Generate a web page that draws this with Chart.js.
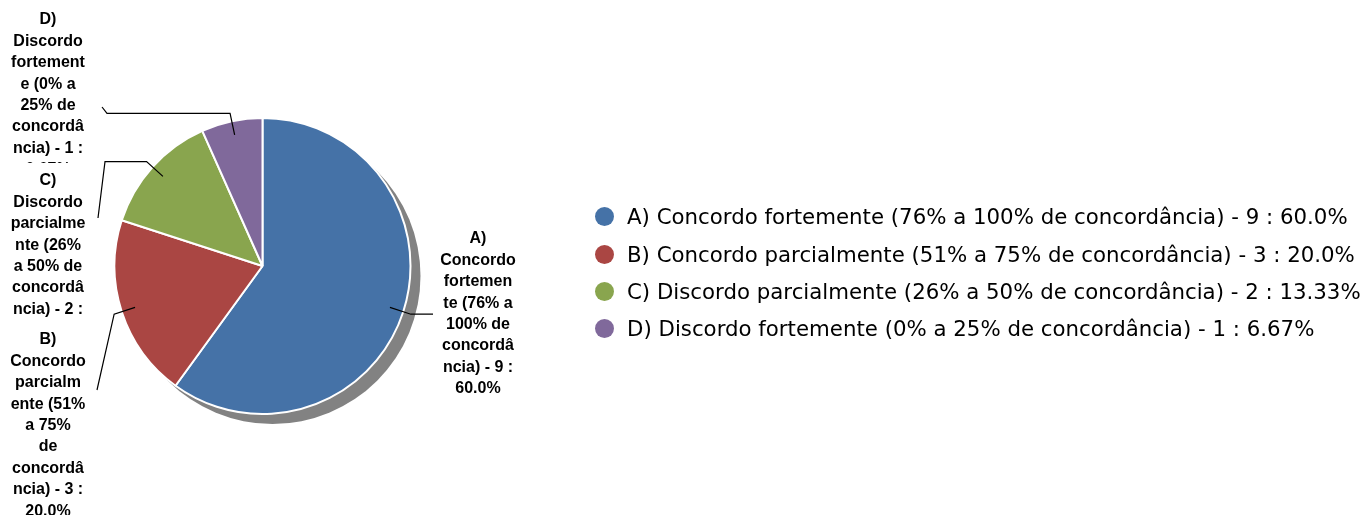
<!DOCTYPE html>
<html>
<head>
<meta charset="utf-8">
<script src="https://cdn.jsdelivr.net/npm/chart.js@4.4.1/dist/chart.umd.min.js"></script>
<style>
  html, body { margin: 0; padding: 0; background: #fff; }
  #wrap { position: relative; width: 1367px; height: 515px; }
  #pie { position: absolute; left: 0; top: 0; }
  #legend { position: absolute; left: 595px; top: 198px; font-family: "DejaVu Sans", sans-serif; font-size: 21.3px; color: #000; }
  .row { height: 37.4px; display: flex; align-items: center; white-space: nowrap; }
  .dot { width: 19px; height: 19px; border-radius: 50%; margin-right: 13px; flex: none; }
</style>
</head>
<body>
<div id="wrap">
  <canvas id="pie" width="1367" height="515"></canvas>
  <div id="legend"></div>
</div>
<script>
// ===========================
// DATA
// ===========================

const categories = [
  "A) Concordo fortemente (76% a 100% de concordância)",
  "B) Concordo parcialmente (51% a 75% de concordância)",
  "C) Discordo parcialmente (26% a 50% de concordância)",
  "D) Discordo fortemente (0% a 25% de concordância)",
];
const counts = [9, 3, 2, 1];
const percents = ["60.0", "20.0", "13.33", "6.67"];
const colors = ["#4572A7", "#AA4643", "#89A54E", "#80699B"];

// data labels, wrapped the way the original wraps them
const labelLines = [
  ["A)", "Concordo", "fortemen", "te (76% a", "100% de", "concordâ", "ncia) - 9 :", "60.0%"],
  ["B)", "Concordo", "parcialm", "ente (51%", "a 75%", "de", "concordâ", "ncia) - 3 :", "20.0%"],
  ["C)", "Discordo", "parcialme", "nte (26%", "a 50% de", "concordâ", "ncia) - 2 :", "13.33%"],
  ["D)", "Discordo", "fortement", "e (0% a", "25% de", "concordâ", "ncia) - 1 :", "6.67%"],
];

// ===========================
// LABEL LAYOUT
// ===========================

const LINE_H = 21.4;
const labelLayout = [
  { x: 478, y: 239, path: (e) => [[433, e.y]] },
  { x: 48, y: 340, path: (e) => [[97, 390]] },
  { x: 48, y: 181, path: (e) => [[105, e.y], [98, 218]] },
  { x: 48, y: 20, path: (e) => [[107, e.y], [102, 107]] },
];

// ===========================
// LEGEND
// ===========================

document.getElementById("legend").innerHTML = categories
  .map(
    (c, i) => `
    <div class="row"><span class="dot" style="background:${colors[i]}"></span>${c} - ${counts[i]} : ${percents[i]}%</div>`
  )
  .join("");

// ===========================
// PLUGINS
// ===========================

const shadowPlugin = {
  id: "shadow",
  beforeDatasetsDraw(chart) {
    const arc = chart.getDatasetMeta(0).data[0];
    const { x, y, outerRadius } = arc.getProps(["x", "y", "outerRadius"], true);
    const ctx = chart.ctx;
    ctx.save();
    ctx.fillStyle = "#828282";
    ctx.beginPath();
    ctx.arc(x + 10, y + 10, outerRadius, 0, Math.PI * 2);
    ctx.fill();
    ctx.restore();
  },
};

const labelPlugin = {
  id: "pieLabels",
  afterDatasetsDraw(chart) {
    const ctx = chart.ctx;
    const arcs = chart.getDatasetMeta(0).data;
    ctx.save();
    ctx.font = "bold 16px 'Liberation Sans', Arial, sans-serif";
    ctx.textAlign = "center";
    ctx.textBaseline = "middle";

    // connectors
    arcs.forEach((arc, i) => {
      const p = arc.getProps(["x", "y", "startAngle", "endAngle", "outerRadius"], true);
      const mid = (p.startAngle + p.endAngle) / 2;
      const a = { x: p.x + Math.cos(mid) * (p.outerRadius - 14), y: p.y + Math.sin(mid) * (p.outerRadius - 14) };
      const e = { x: p.x + Math.cos(mid) * (p.outerRadius + 8), y: p.y + Math.sin(mid) * (p.outerRadius + 8) };
      ctx.strokeStyle = "#000";
      ctx.lineWidth = 1.2;
      ctx.beginPath();
      ctx.moveTo(a.x, a.y);
      ctx.lineTo(e.x, e.y);
      labelLayout[i].path(e).forEach((pt) => ctx.lineTo(pt[0], pt[1]));
      ctx.stroke();
    });

    // text blocks, last slice first so later blocks cover earlier ones
    for (let i = arcs.length - 1; i >= 0; i--) {
      const lay = labelLayout[i];
      const lines = labelLines[i];
      const top = lay.y - 18;
      ctx.fillStyle = "#fff";
      ctx.fillRect(lay.x - 45, top, 90, lines.length * LINE_H + 6);
      ctx.fillStyle = "#000";
      lines.forEach((t, k) => ctx.fillText(t, lay.x, lay.y + k * LINE_H));
    }
    ctx.restore();
  },
};

// ===========================
// CHART
// ===========================

new Chart(document.getElementById("pie").getContext("2d"), {
  type: "pie",
  data: {
    labels: categories,
    datasets: [
      {
        data: counts,
        backgroundColor: colors,
        borderColor: "#ffffff",
        borderWidth: 2,
      },
    ],
  },
  options: {
    responsive: false,
    animation: false,
    events: [],
    layout: { padding: { left: 113.5, top: 117, right: 955.5, bottom: 100 } },
    plugins: {
      legend: { display: false },
      tooltip: { enabled: false },
    },
  },
  plugins: [shadowPlugin, labelPlugin],
});
</script>
</body>
</html>
